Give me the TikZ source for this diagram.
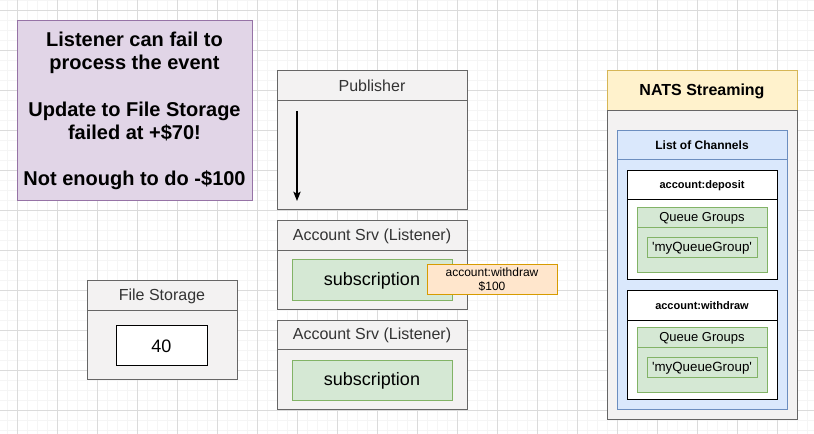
\documentclass[tikz,border=0pt]{standalone}
\usepackage{fontspec}
\newfontfamily\arialf{Liberation Sans}
\usetikzlibrary{arrows.meta}
\definecolor{grayfill}{HTML}{F3F2F2}
\definecolor{graystroke}{HTML}{666666}
\definecolor{graytext}{HTML}{333333}
\definecolor{purplefill}{HTML}{E1D5E7}
\definecolor{purplestroke}{HTML}{9673A6}
\definecolor{greenfill}{HTML}{D5E8D4}
\definecolor{greenstroke}{HTML}{82B366}
\definecolor{orangefill}{HTML}{FFE6CC}
\definecolor{orangestroke}{HTML}{D79B00}
\definecolor{yellowfill}{HTML}{FFF2CC}
\definecolor{yellowstroke}{HTML}{D6B656}
\definecolor{bluefill}{HTML}{DAE8FC}
\definecolor{bluestroke}{HTML}{6C8EBF}
\tikzset{
  every node/.style={font=\arialf, inner sep=0pt, outer sep=0pt},
  box/.style n args={2}{rectangle, anchor=north west, minimum width=#1*0.75pt, minimum height=#2*0.75pt, line width=0.75pt},
  graybox/.style={draw=graystroke, fill=grayfill, text=graytext},
  greenbox/.style={draw=greenstroke, fill=greenfill},
  bluebox/.style={draw=bluestroke, fill=bluefill},
  whitebox/.style={draw=black, fill=white},
  gminor/.style={draw=black!4, line width=0.6pt},
  gmajor/.style={draw=black!14, line width=0.6pt},
  hdr/.style={font=\arialf\fontsize{12pt}{14pt}\selectfont},
  subtxt/.style={font=\arialf\fontsize{13.5pt}{16pt}\selectfont},
}
\begin{document}
\begin{tikzpicture}[x=0.75pt,y=-0.75pt]
\useasboundingbox (0,0) rectangle (814,434);
\fill[white] (0,0) rectangle (814,434);
% grid
\foreach \gx in {7,17,...,807} \draw[gminor] (\gx,0) -- (\gx,434);
\foreach \gy in {0,10,...,430} \draw[gminor] (0,\gy) -- (814,\gy);
\foreach \gx in {17,57,...,777} \draw[gmajor] (\gx,0) -- (\gx,434);
\foreach \gy in {10,50,...,410} \draw[gmajor] (0,\gy) -- (814,\gy);

% note
\node[box={235}{180}, draw=purplestroke, fill=purplefill, align=center,
  font=\arialf\bfseries\fontsize{15pt}{17.4pt}\selectfont] (note) at (17,21)
  {Listener can fail to\\process the event\\[17.4pt]Update to File Storage\\failed at +\$70!\\[17.4pt]Not enough to do -\$100};

% Publisher
\node[box={190}{30}, graybox, hdr] (pubh) at (277,71) {Publisher};
\node[box={190}{109}, graybox] (pubb) at (277,101) {};
\coordinate (arrS) at (297,111);
\coordinate (arrE) at (297,201);
\draw[line width=0.9pt, -{Stealth[length=7pt, width=5.5pt, inset=1.5pt]}] (arrS) -- (arrE);

% Account Srv 1
\node[box={190}{30}, graybox, hdr] (acc1h) at (277,221) {Account Srv (Listener)};
\node[box={190}{59}, graybox] (acc1b) at (277,251) {};
\node[box={160}{41}, greenbox, subtxt] (sub1) at (292,260) {subscription};
\node[box={130}{30}, draw=orangestroke, fill=orangefill, align=center,
  font=\arialf\fontsize{9pt}{10.5pt}\selectfont] (evt) at (427,265) {account:withdraw\\\$100};

% Account Srv 2
\node[box={190}{29}, graybox, hdr] (acc2h) at (277,321) {Account Srv (Listener)};
\node[box={190}{60}, graybox] (acc2b) at (277,350) {};
\node[box={160}{40}, greenbox, subtxt] (sub2) at (292,361) {subscription};

% File Storage
\node[box={150}{30}, graybox, hdr] (fsh) at (87,281) {File Storage};
\node[box={150}{69}, graybox] (fsb) at (87,311) {};
\node[box={91}{40}, whitebox, subtxt] (fsv) at (116,326) {40};

% NATS Streaming
\node[box={190}{40}, draw=yellowstroke, fill=yellowfill,
  font=\arialf\bfseries\fontsize{12pt}{14pt}\selectfont] (natsh) at (607,71) {NATS Streaming};
\node[box={190}{309}, graybox] (natsb) at (607,111) {};
\node[box={170}{29}, bluebox, font=\arialf\bfseries\fontsize{9pt}{11pt}\selectfont] (lch) at (617,131) {List of Channels};
\node[box={170}{250}, bluebox] (lcb) at (617,160) {};

% account:deposit
\node[box={150}{29}, whitebox, font=\arialf\bfseries\fontsize{8.25pt}{10pt}\selectfont] (deph) at (627,171) {account:deposit};
\node[box={150}{80}, whitebox] (depb) at (627,200) {};
\node[box={130}{20}, greenbox, font=\arialf\fontsize{9.75pt}{11pt}\selectfont] (qg1h) at (637,208) {Queue Groups};
\node[box={130}{45}, greenbox] (qg1b) at (637,228) {};
\node[box={110}{20}, greenbox, font=\arialf\fontsize{10pt}{12pt}\selectfont] (mq1) at (647,238) {'myQueueGroup'};

% account:withdraw
\node[box={150}{30}, whitebox, font=\arialf\bfseries\fontsize{8.25pt}{10pt}\selectfont] (wdh) at (627,291) {account:withdraw};
\node[box={150}{79}, whitebox] (wdb) at (627,321) {};
\node[box={130}{20}, greenbox, font=\arialf\fontsize{9.75pt}{11pt}\selectfont] (qg2h) at (637,328) {Queue Groups};
\node[box={130}{45}, greenbox] (qg2b) at (637,348) {};
\node[box={110}{20}, greenbox, font=\arialf\fontsize{10pt}{12pt}\selectfont] (mq2) at (647,358) {'myQueueGroup'};
\end{tikzpicture}
\end{document}
